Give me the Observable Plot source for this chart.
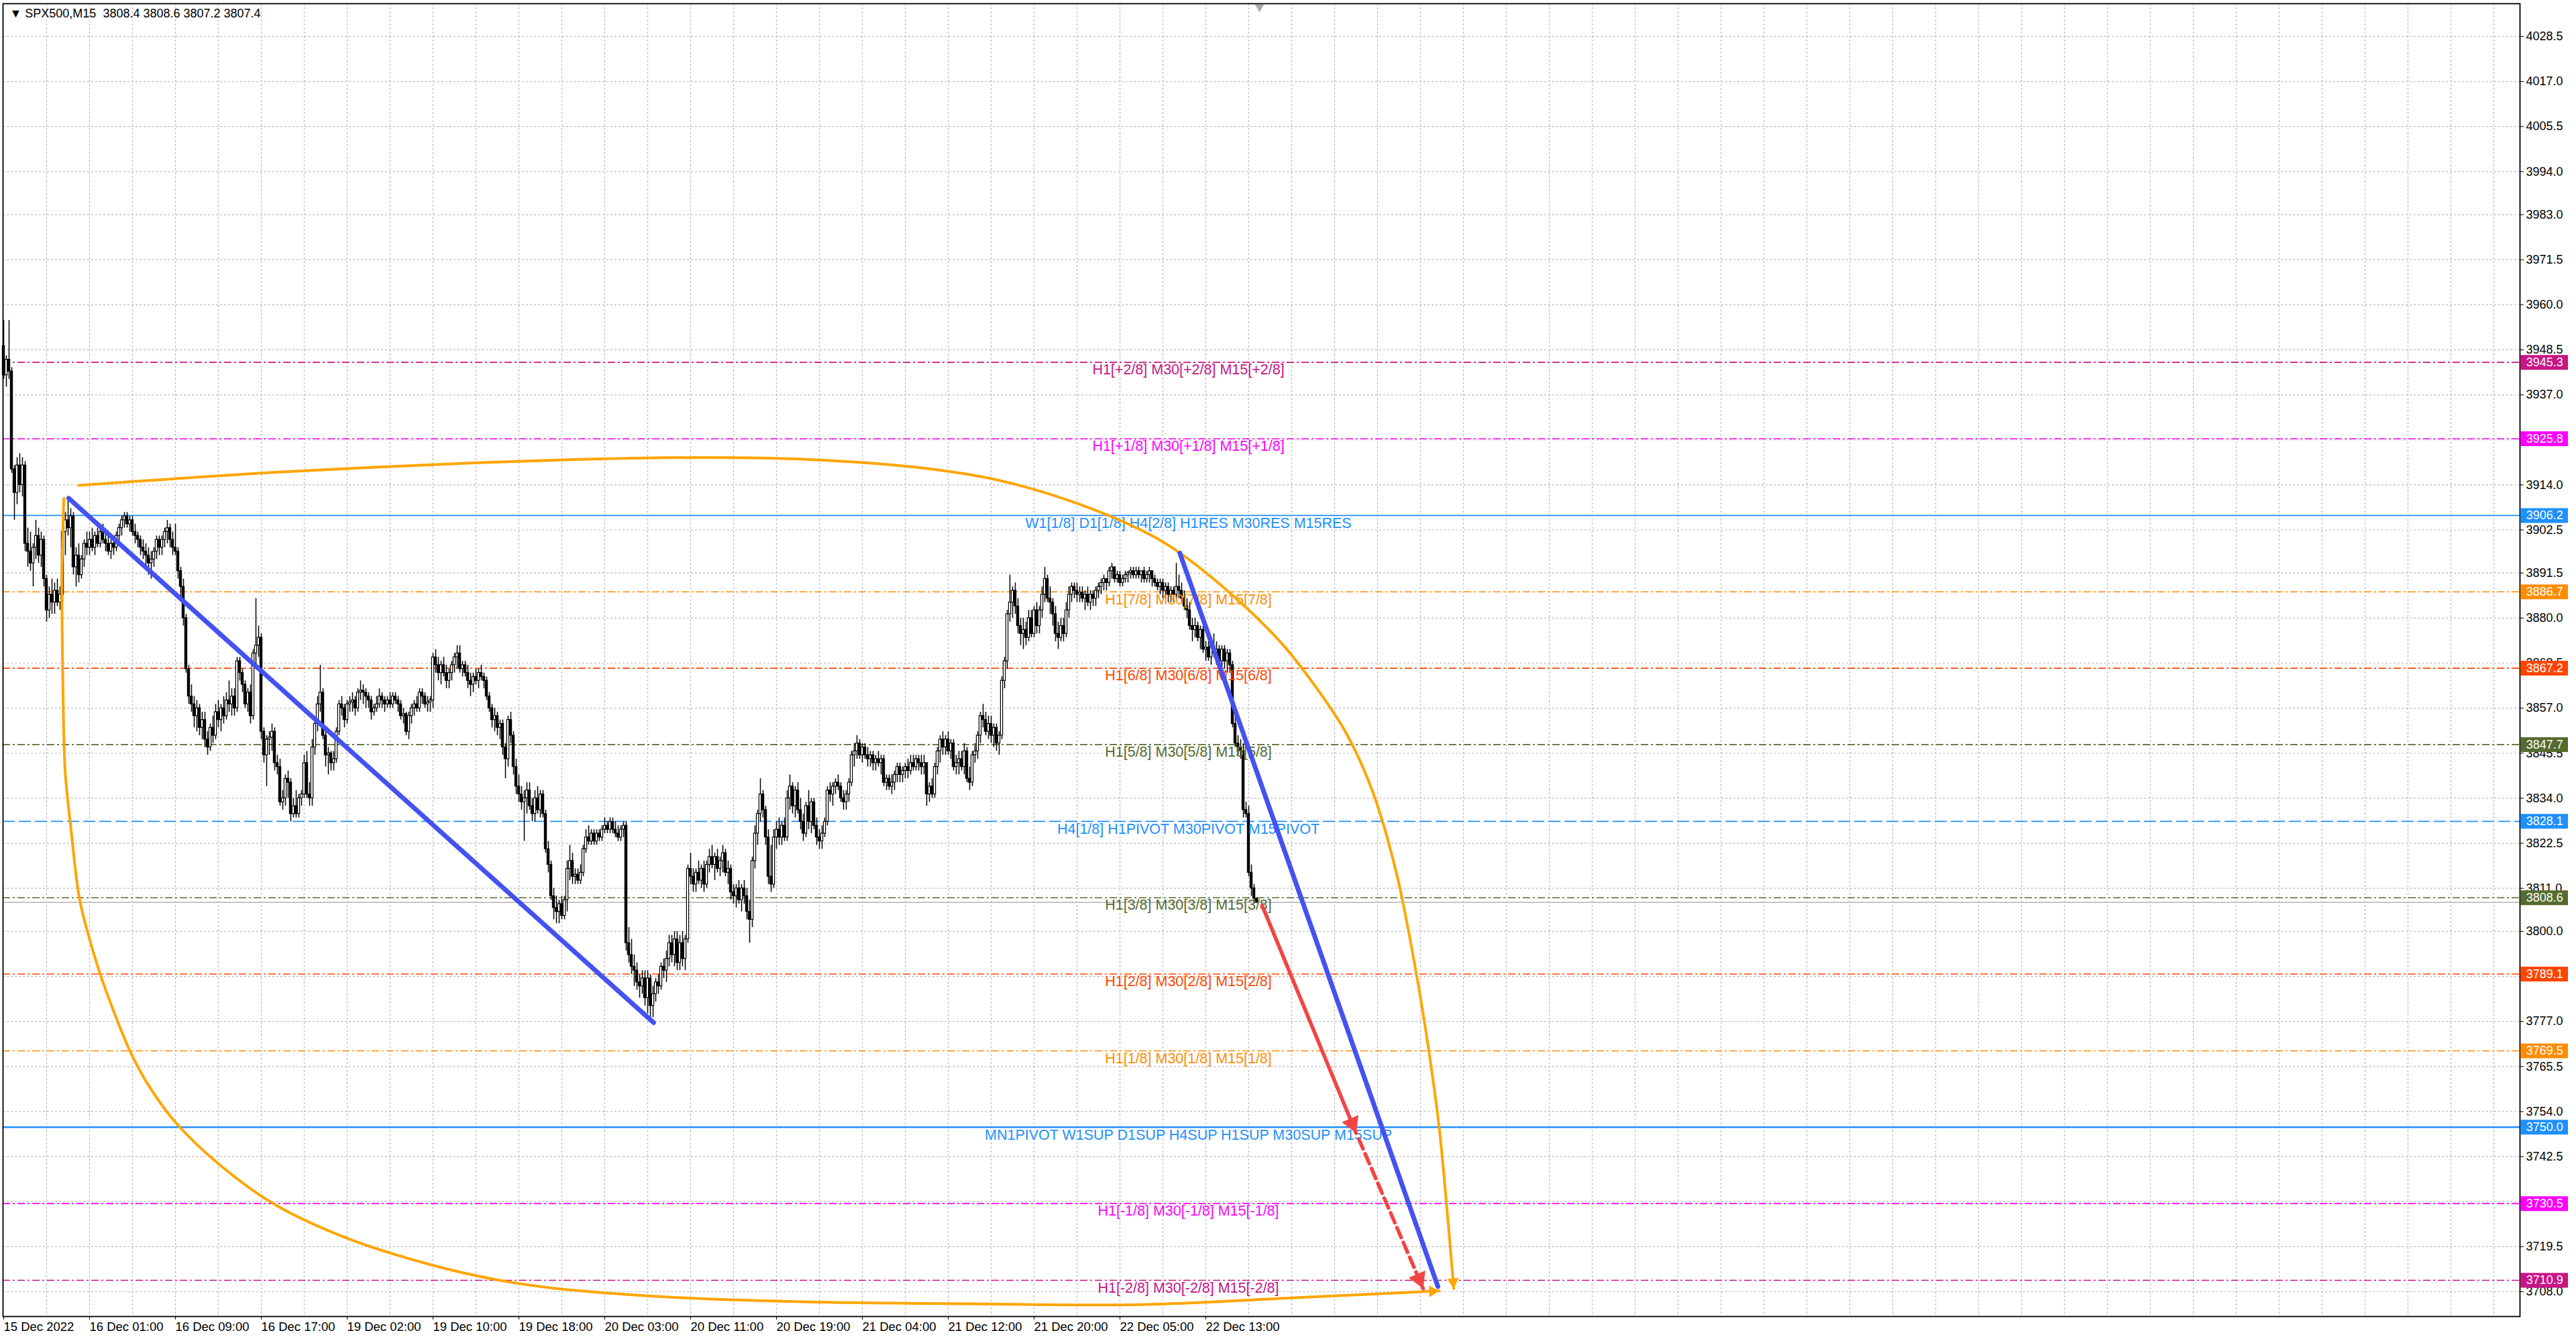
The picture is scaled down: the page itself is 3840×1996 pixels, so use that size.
<!DOCTYPE html>
<html>
<head>
<meta charset="utf-8">
<script src="https://cdn.jsdelivr.net/npm/d3@7"></script>
<script src="https://cdn.jsdelivr.net/npm/@observablehq/plot@0.6"></script>
<style>
  html, body { margin: 0; padding: 0; background: #fff; }
  #chart svg { display: block; }
</style>
</head>
<body>
<div id="chart"></div>
<script>
// ---------- SPX500 M15 bars, [high, low, close] per bar; open = previous close ----------
const firstOpen = 3949.5;
const dec15 = [
  [3956,3941,3942],[3947,3939,3946],[3956,3941,3943],[3944,3917,3918],[3919,3905,3912],[3921,3909,3919],[3922,3912,3914],[3921,3911,3919],
  [3920,3897,3899],[3903,3893,3897],[3902,3892,3894],[3899,3888,3898],[3905,3895,3901],[3903,3894,3896],[3902,3893,3900],[3901,3888,3890],
  [3891,3879,3882],[3888,3880,3886],[3890,3881,3884],[3889,3881,3887],[3890,3883,3884],[3888,3882,3886],[3904,3884,3902],[3907,3896,3905],
  [3910,3901,3903],[3908,3898,3906],[3907,3891,3893],[3898,3888,3896],[3899,3889,3891],[3896,3890,3895],[3900,3893,3899],[3902,3896,3898]
];
const dec16 = [
  [3902,3896,3900],[3903,3897,3898],[3902,3896,3901],[3903,3898,3899],[3904,3898,3902],[3904,3899,3900],[3902,3897,3899],[3901,3896,3897],
  [3900,3895,3899],[3901,3896,3898],[3902,3897,3901],[3904,3899,3903],[3906,3901,3905],[3907,3903,3906],[3907,3903,3904],[3906,3902,3905],
  [3906,3901,3902],[3904,3899,3901],[3902,3898,3900],[3901,3896,3898],[3900,3895,3897],[3899,3893,3896],[3898,3891,3894],[3897,3890,3895],
  [3898,3893,3897],[3901,3895,3900],[3901,3896,3898],[3901,3896,3900],[3903,3898,3902],[3905,3899,3903],[3904,3898,3900],[3902,3896,3898],
  [3904,3896,3897],[3898,3890,3892],[3893,3885,3888],[3890,3878,3880],[3881,3866,3867],[3868,3858,3860],[3863,3856,3858],[3860,3852,3855],
  [3859,3851,3857],[3858,3850,3852],[3856,3849,3854],[3856,3847,3849],[3851,3845,3847],[3853,3846,3852],[3855,3848,3850],[3858,3849,3856],
  [3859,3852,3854],[3858,3851,3857],[3860,3853,3855],[3861,3854,3859],[3864,3856,3858],[3862,3855,3860],[3862,3855,3857],[3870,3856,3869],
  [3870,3864,3866],[3867,3861,3863],[3864,3857,3858],[3862,3856,3861],[3863,3853,3855],[3872,3854,3871],[3885,3868,3873],[3878,3870,3875],
  [3876,3849,3851],[3852,3843,3845],[3850,3837,3849],[3851,3845,3849.5],[3853,3846,3851],[3852,3841,3843],[3845,3840,3842],[3844,3832,3833],
  [3836,3831,3834],[3840,3832,3839],[3841,3834,3838],[3839,3828,3830],[3834,3829,3832],[3836,3829,3830],[3835,3829,3834],[3836,3832,3835],
  [3845,3834,3843],[3846,3834,3835],[3838,3832,3834],[3849,3832,3847],[3854,3845,3853],[3860,3851,3858],[3868,3856,3861],[3862,3849,3850],
  [3851,3842,3845],[3847,3840,3845.5],[3846,3841,3843],[3846,3841,3844]
];
const dec19 = [
  [3852,3843,3851],[3859,3850,3858],[3860,3855,3857],[3858,3852,3854],[3859,3853,3858],[3860,3856,3858.5],[3861,3856,3859],[3860,3855,3857],
  [3862,3856,3861],[3864,3859,3861.5],[3863,3858,3861],[3862,3857,3860],[3861,3857,3859],[3860,3854,3856],[3858,3855,3857],[3860,3856,3858],
  [3862,3857,3860],[3861,3857,3859],[3860,3856,3858],[3860,3857,3859],[3861,3857,3858],[3861,3857,3860],[3861,3858,3859],[3860,3856,3858],
  [3859,3854,3855],[3857,3853,3855.5],[3856,3850,3851],[3856,3849,3855],[3858,3853,3857],[3859,3855,3858],[3860,3856,3857],[3862,3856,3861],
  [3862,3858,3860],[3861,3857,3858],[3860,3856,3858.5],[3860,3856,3859],[3871,3857,3870],[3872,3866,3868],[3870,3864,3866],[3869,3863,3868],
  [3870,3865,3866],[3868,3862,3864],[3867,3862,3866],[3869,3864,3868],[3871,3866,3870],[3873,3867,3871],[3873,3866,3867],[3869,3865,3868],
  [3869,3865,3866],[3868,3862,3864],[3866,3860,3863],[3866,3861,3865],[3867,3863,3864],[3867,3862,3866],[3868,3864,3865],[3866,3862,3864],
  [3865,3859,3860],[3861,3856,3857],[3858,3852,3854],[3857,3851,3855],[3856,3850,3852],[3854,3849,3853],[3854,3845,3847],[3848,3839,3844],
  [3855,3842,3854],[3856,3848,3850],[3851,3840,3842],[3844,3835,3837],[3840,3833,3835],[3837,3831,3833],[3836,3823,3834],[3838,3830,3836],
  [3838,3831,3832],[3834,3828,3830],[3836,3828,3834],[3837,3830,3831],[3836,3829,3835],[3836,3829,3830],[3831,3820,3821],[3823,3815,3817],
  [3818,3808,3809],[3811,3803,3806],[3809,3802,3805],[3808,3802,3807],[3809,3803,3804],[3809,3803,3808],[3818,3805,3816],[3822,3813,3818],
  [3820,3812,3814],[3816,3812,3814.5],[3816,3812,3813],[3817,3812,3815]
];
const dec20 = [
  [3822,3814,3821],[3826,3820,3824],[3827,3822,3823],[3826,3822,3825],[3826,3822,3823],[3826,3822,3825],[3826,3823,3824],[3827,3823,3826],
  [3829,3825,3827],[3828,3825,3826],[3829,3825,3828],[3829,3825,3826],[3828,3824,3825],[3827,3823,3824],[3827,3823,3826],[3828,3824,3827],
  [3828,3795,3797],[3801,3792,3794],[3798,3789,3791],[3794,3786,3790],[3792,3785,3787],[3789,3783,3786],[3790,3784,3788],[3790,3781,3783],
  [3790,3779,3788],[3789,3778,3781],[3786,3778,3784],[3788,3782,3787],[3789,3784,3786],[3792,3785,3791],[3793,3788,3790],[3795,3787,3793],
  [3799,3791,3797],[3799,3792,3794],[3800,3791,3798],[3800,3790,3792],[3799,3790,3797],[3800,3791,3793],[3799,3790,3798],[3817,3797,3816],
  [3820,3812,3814],[3816,3810,3812],[3816,3810,3815],[3818,3812,3813],[3817,3811,3816],[3818,3810,3812],[3818,3811,3817],[3821,3815,3819],
  [3822,3816,3817],[3820,3813,3819],[3821,3815,3816],[3819,3814,3818],[3822,3815,3820],[3821,3814,3815],[3818,3812,3816],[3817,3808,3810],
  [3812,3807,3809],[3812,3806,3811],[3813,3807,3808],[3812,3805,3811],[3813,3807,3809],[3811,3803,3805],[3808,3797,3803],[3819,3801,3818],
  [3827,3816,3825],[3831,3822,3830],[3839,3828,3835],[3836,3829,3831],[3832,3822,3824],[3826,3812,3814],[3822,3810,3812],[3826,3811,3824],
  [3828,3821,3826],[3829,3822,3824],[3828,3822,3827],[3829,3823,3824],[3836,3823,3834],[3840,3831,3837],[3838,3830,3832],[3837,3829,3836],
  [3838,3830,3831],[3834,3826,3828],[3830,3823,3825],[3833,3824,3832],[3836,3826,3828],[3834,3825,3833],[3834,3826,3827],[3829,3822,3824],
  [3826,3821,3823],[3827,3821,3825],[3829,3824,3828],[3837,3827,3836]
];
const dec21 = [
  [3838,3833,3835],[3838,3832,3837],[3839,3835,3838],[3840,3836,3837],[3838,3833,3834],[3836,3831,3833],[3836,3831,3835],[3839,3833,3838],
  [3846,3837,3845],[3848,3842,3846],[3850,3844,3848],[3849,3844,3845],[3848,3843,3847],[3848,3844,3845],[3847,3842,3844],[3846,3842,3845],
  [3846,3841,3843],[3845,3841,3844],[3846,3842,3843],[3845,3840,3844],[3845,3837,3838],[3840,3836,3839],[3840,3836,3837],[3840,3835,3838],
  [3841,3836,3840],[3843,3838,3842],[3843,3838,3840],[3842,3838,3841],[3843,3839,3842],[3844,3839,3841],[3845,3840,3843],[3845,3841,3842],
  [3845,3841,3844],[3845,3841,3843],[3845,3840,3842],[3845,3840,3843],[3843,3832,3835],[3838,3833,3837],[3839,3834,3835],[3843,3834,3842],
  [3847,3840,3846],[3850,3843,3849],[3851,3845,3847],[3850,3845,3849],[3851,3845,3846],[3849,3844,3848],[3849,3841,3842],[3845,3840,3843],
  [3846,3840,3844],[3846,3841,3842],[3848,3840,3846],[3847,3838,3839],[3842,3836,3838],[3846,3837,3845],[3848,3843,3846],[3851,3844,3850],
  [3856,3848,3855],[3858,3852,3854],[3856,3850,3851],[3855,3849,3853],[3855,3848,3850],[3853,3847,3852],[3853,3846,3848],[3851,3845,3850],
  [3865,3849,3864],[3870,3862,3869],[3882,3867,3881],[3891,3879,3884],[3888,3880,3887],[3889,3881,3883],[3885,3876,3878],[3880,3873,3876],
  [3880,3872,3877],[3879,3873,3875],[3882,3874,3880],[3882,3875,3876],[3883,3875,3882],[3884,3876,3878],[3883,3876,3882],[3888,3880,3886],
  [3893,3884,3890],[3891,3884,3885],[3888,3881,3884],[3885,3878,3881],[3883,3874,3876],[3879,3872,3875],[3880,3874,3878],[3880,3874,3876],
  [3884,3875,3882],[3888,3880,3886],[3889,3884,3888],[3889,3885,3887]
];
const dec22 = [
  [3889,3884,3886],[3888,3884,3886.5],[3888,3884,3885],[3887,3882,3886],[3888,3883,3884],[3887,3882,3886],[3887,3883,3885],[3888,3883,3887],
  [3889,3885,3888],[3890,3886,3889],[3891,3887,3890],[3890,3887,3889],[3893,3888,3892],[3894,3890,3893],[3893,3889,3890],[3892,3889,3891],
  [3892,3888,3889],[3891,3888,3890],[3892,3889,3891],[3892,3889,3891.5],[3893,3890,3892],[3893,3890,3891],[3893,3890,3892],[3893,3890,3891],
  [3892,3889,3892],[3893,3889,3890],[3892,3889,3891],[3893,3889,3892],[3892,3888,3890],[3891,3888,3889],[3890,3887,3888],[3890,3886,3889],
  [3890,3885,3887],[3889,3885,3888],[3889,3884,3886],[3888,3884,3887],[3888,3884,3886],[3894,3885,3888],[3891,3885,3887],[3889,3884,3885],
  [3887,3882,3883],[3885,3880,3882],[3884,3877,3878],[3880,3874,3877],[3880,3875,3878],[3879,3874,3875],[3878,3872,3877],[3878,3871,3872],
  [3874,3869,3872.5],[3874,3869,3870],[3875,3868,3873],[3876,3870,3871],[3874,3868,3872],[3873,3868,3869],[3873,3867,3872],[3873,3867,3869],
  [3872,3866,3871],[3872,3866,3868],[3869,3852,3853],[3855,3847,3848],[3850,3845,3847],[3849,3844,3846],[3848,3829,3831],[3833,3829,3830],
  [3832,3814,3815],[3817,3809,3811],[3812,3807,3808.4],[3808.6,3807.2,3807.4]
];
const sessions = [dec15, dec16, dec19, dec20, dec21, dec22];
const lastBid = 3807.4;

// ---------- axes ----------
const timeLabels = ["15 Dec 2022","16 Dec 01:00","16 Dec 09:00","16 Dec 17:00","19 Dec 02:00","19 Dec 10:00","19 Dec 18:00",
  "20 Dec 03:00","20 Dec 11:00","20 Dec 19:00","21 Dec 04:00","21 Dec 12:00","21 Dec 20:00","22 Dec 05:00","22 Dec 13:00"];
const barsPerLabel = 32;   // 8 hours of M15 bars
const priceTicks = [4028.5,4017.0,4005.5,3994.0,3983.0,3971.5,3960.0,3948.5,3937.0,3925.5,3914.0,3902.5,3891.5,3880.0,
  3868.5,3857.0,3845.5,3834.0,3822.5,3811.0,3800.0,3788.5,3777.0,3765.5,3754.0,3742.5,3731.0,3719.5,3708.0];

// ---------- Murrey levels ----------
const levelPrices = [3945.3,3925.8,3906.2,3886.7,3867.2,3847.7,3828.1,3808.6,3789.1,3769.5,3750.0,3730.5,3710.9];
const levelNames = [
  "H1[+2/8] M30[+2/8] M15[+2/8]",
  "H1[+1/8] M30[+1/8] M15[+1/8]",
  "W1[1/8] D1[1/8] H4[2/8] H1RES M30RES M15RES",
  "H1[7/8] M30[7/8] M15[7/8]",
  "H1[6/8] M30[6/8] M15[6/8]",
  "H1[5/8] M30[5/8] M15[5/8]",
  "H4[1/8] H1PIVOT M30PIVOT M15PIVOT",
  "H1[3/8] M30[3/8] M15[3/8]",
  "H1[2/8] M30[2/8] M15[2/8]",
  "H1[1/8] M30[1/8] M15[1/8]",
  "MN1PIVOT W1SUP D1SUP H4SUP H1SUP M30SUP M15SUP",
  "H1[-1/8] M30[-1/8] M15[-1/8]",
  "H1[-2/8] M30[-2/8] M15[-2/8]"
];
const levelColors = ["#C71585","#FF00FF","#1E90FF","#FF8C00","#FF4500","#556B2F","#1E90FF","#556B2F","#FF4500","#FF8C00","#1E90FF","#FF00FF","#C71585"];
const levelKinds  = ["dashdot","dashdot","solid","dashdot","dashdot","dashdot","dash","dashdot","dashdot","dashdot","solidwide","dashdot","dashdot"];
const levelLabelBar = 441.5;

// ---------- drawn objects, [bar, price] ----------
const trendDown1 = [[24.2, 3910.6], [242.2, 3776.7]];
const trendDown2 = [[438.3, 3896.6], [534.5, 3709.3]];
const redSolid   = [[469, 3806.6], [504, 3748.5]];
const redDashed  = [[505, 3747.0], [529, 3708.8]];
const arcTop = [[28,3913.9],[60,3915.4],[100,3917.2],[174,3919.6],[220,3920.6],[262,3921.0],[300,3920.5],[340,3918.5],
  [370,3915.3],[400,3909.3],[427,3901.4],[438,3896.8],[458,3885.8],[475,3874.5],[486,3865.2],[500,3851],[510,3836],
  [519,3815],[526.4,3789.4],[531,3770],[535,3749.7],[538,3728],[540.4,3708.8]];
const arcBottom = [[22.4,3910.6],[21.8,3895],[21.7,3884],[22.1,3862],[22.9,3840.8],[24.9,3827.3],[28.2,3808.5],[31.4,3799.5],
  [36,3789],[41.9,3778],[47.1,3769.4],[53.7,3761],[64.1,3751.2],[79.8,3740.8],[100.7,3730.4],[128.2,3721.6],[159.6,3714.8],
  [181.8,3711.3],[203.8,3709],[249,3706.6],[300,3705.4],[360,3704.9],[424,3704.7],[480,3706.4],[535,3708.2]];
const shiftBar = 468;

// ---------- layout ----------
const W = 3840, H = 1996;
const M = {top: 5, right: 84, bottom: 34, left: 4};
const xDom = [-0.25, 937.75];
const yDom = [3701.66, 4036.88];
const kx = (W - M.left - M.right) / (xDom[1] - xDom[0]);
const ky = (H - M.top - M.bottom) / (yDom[1] - yDom[0]);
const FONT = "'Liberation Sans', Arial, sans-serif";

// ---------- build candles ----------
const candles = [];
let prev = firstOpen;
for (const day of sessions) {
  for (const [high, low, close] of day) {
    candles.push({i: candles.length, open: prev, high, low, close});
    prev = close;
  }
}
const bull = candles.filter(d => d.close >= d.open);
const bear = candles.filter(d => d.close < d.open);
const bodyTop = d => (d.close === d.open ? d.close + 0.12 : d.close);

const levels = levelPrices.map((price, k) => ({price, name: levelNames[k], color: levelColors[k], kind: levelKinds[k]}));
const dashFor = {dashdot: "11,4,3,4", dash: "18,6", solid: null, solidwide: null};

// arrow heads: filled triangle whose tip sits on the path end
function head(path, r) {
  const [x0, y0] = path[path.length - 2], [x1, y1] = path[path.length - 1];
  const sx = (x1 - x0) * kx, sy = -(y1 - y0) * ky;
  const len = Math.hypot(sx, sy), ux = sx / len, uy = sy / len;
  const back = 2 * Math.sqrt((Math.PI * r * r) / (3 * Math.sqrt(3)));
  return {x: x1 - (ux * back) / kx, y: y1 + (uy * back) / ky, angle: (Math.atan2(ux, -uy) * 180) / Math.PI};
}
const redHeads = [head(redSolid, 10), head(redDashed, 10)];
const orangeHeads = [head(arcTop, 6.5), head(arcBottom, 6.5)];

const timeBars = timeLabels.map((_, k) => k * barsPerLabel);
const gridBars = d3.range(16, xDom[1], 16);
const boxX1 = xDom[1] + 0.3, boxX2 = xDom[1] + 18, boxMid = xDom[1] + 9.2;

const XY = {x: d => d[0], y: d => d[1]};

const chart = Plot.plot({
  width: W, height: H,
  marginTop: M.top, marginRight: M.right, marginBottom: M.bottom, marginLeft: M.left,
  style: {background: "white", color: "black", fontFamily: FONT, overflow: "visible"},
  x: {type: "linear", domain: xDom},
  y: {type: "linear", domain: yDom},
  marks: [
    // grid
    Plot.ruleY(priceTicks, {stroke: "#BBBBBB", strokeDasharray: "3,3", strokeWidth: 1.2}),
    Plot.ruleX(gridBars, {stroke: "#BBBBBB", strokeDasharray: "3,3", strokeWidth: 1.2}),

    // Murrey level lines
    ...["dashdot", "dash", "solid", "solidwide"].map(kind =>
      Plot.ruleY(levels.filter(d => d.kind === kind), {
        y: "price", stroke: "color",
        strokeWidth: kind === "solidwide" ? 2.4 : 1.6,
        strokeDasharray: dashFor[kind]
      })),
    // bid line
    Plot.ruleY([lastBid], {stroke: "#BDBDBD", strokeWidth: 1.8}),

    // candles
    Plot.ruleX(candles, {x: "i", y1: "low", y2: "high", stroke: "black", strokeWidth: 1.5}),
    Plot.rect(bear, {x1: d => d.i - 0.4, x2: d => d.i + 0.4, y1: "open", y2: "close",
      fill: "black", stroke: "black", strokeWidth: 1.2}),
    Plot.rect(bull, {x1: d => d.i - 0.4, x2: d => d.i + 0.4, y1: "open", y2: bodyTop,
      fill: "white", stroke: "black", strokeWidth: 1.2}),

    // level names
    Plot.text(levels, {
      x: () => levelLabelBar, y: "price", text: "name", fill: "color",
      textAnchor: "middle", lineAnchor: "top", dy: 3, fontSize: 21.5, fontFamily: FONT
    }),

    // drawn objects
    Plot.line(arcTop, {...XY, curve: "catmull-rom", stroke: "#FFA500", strokeWidth: 4}),
    Plot.line(arcBottom, {...XY, curve: "catmull-rom", stroke: "#FFA500", strokeWidth: 4}),
    Plot.line(trendDown1, {...XY, stroke: "#4352F0", strokeWidth: 7, strokeLinecap: "round"}),
    Plot.line(trendDown2, {...XY, stroke: "#4352F0", strokeWidth: 7, strokeLinecap: "round"}),
    Plot.line(redSolid, {...XY, stroke: "#F24444", strokeWidth: 5.5}),
    Plot.line(redDashed, {...XY, stroke: "#F24444", strokeWidth: 5.5, strokeDasharray: "16,8"}),
    Plot.dot(redHeads, {x: "x", y: "y", rotate: "angle", symbol: "triangle", r: 10, fill: "#F24444", stroke: null}),
    Plot.dot(orangeHeads, {x: "x", y: "y", rotate: "angle", symbol: "triangle", r: 6.5, fill: "#FFA500", stroke: null}),

    // chart-shift marker
    Plot.dot([shiftBar], {x: d => d, frameAnchor: "top", dy: 5, symbol: "triangle", rotate: 180, r: 5, fill: "#A8A8A8"}),

    // frame and axes
    Plot.frame({stroke: "black", strokeWidth: 1.8}),
    Plot.axisY(priceTicks, {
      anchor: "right", label: null, tickSize: 5, tickPadding: 4,
      tickFormat: d => d.toFixed(1), fontSize: 18, fontFamily: FONT
    }),
    Plot.axisX(timeBars, {
      anchor: "bottom", label: null, tickSize: 5, tickPadding: 3, textAnchor: "start",
      tickFormat: d => timeLabels[d / barsPerLabel], fontSize: 18.5, fontFamily: FONT
    }),

    // price boxes on the right axis
    Plot.ruleY(levels, {y: "price", x1: boxX1, x2: boxX2, stroke: "color", strokeWidth: 22}),
    Plot.text(levels, {x: () => boxMid, y: "price", text: d => d.price.toFixed(1), fill: "white",
      fontSize: 18, fontFamily: FONT}),

    // symbol caption
    Plot.text(["\u25BC SPX500,M15\u00A0\u00A03808.4 3808.6 3807.2 3807.4"], {
      frameAnchor: "top-left", dx: 10, dy: 8, lineAnchor: "top", textAnchor: "start",
      fontSize: 18, fontFamily: FONT, fill: "black"
    })
  ]
});

document.getElementById("chart").appendChild(chart);
</script>
</body>
</html>
